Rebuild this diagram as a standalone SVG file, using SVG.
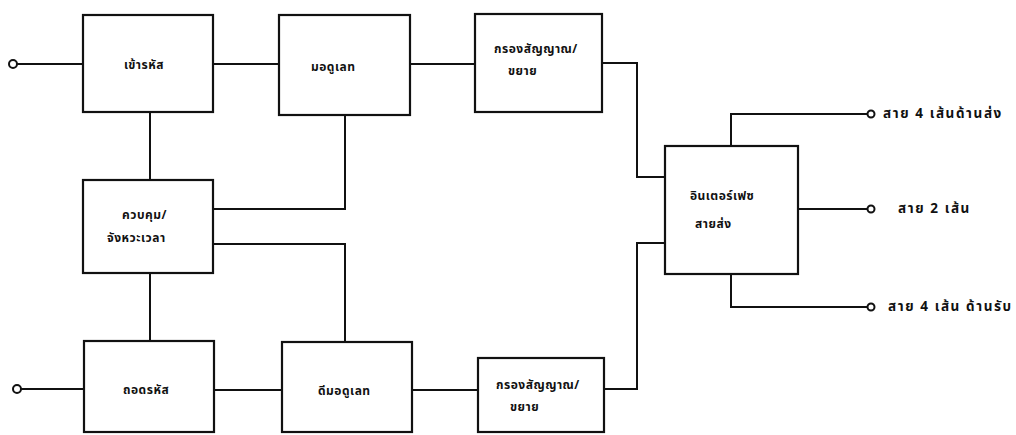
<svg xmlns="http://www.w3.org/2000/svg" width="1016" height="435" viewBox="0 0 1016 435">
<style>
.box{fill:#fff;stroke:#111;stroke-width:2.2}
.ln{fill:none;stroke:#111;stroke-width:2}
.term{fill:#fff;stroke:#111;stroke-width:2}
text{font-family:"Noto Sans Thai","Noto Sans","DejaVu Sans",sans-serif;font-size:12px;font-weight:bold;letter-spacing:0.5px;fill:#111}
text.lbl{font-size:13.5px;letter-spacing:1.6px}
</style>
<rect width="1016" height="435" fill="#fff"/>
<g id="connectors">
<path class="ln" d="M17 64H83"/>
<path class="ln" d="M213 64H279"/>
<path class="ln" d="M410 64H475"/>
<path class="ln" d="M602 63H637V177H665"/>
<path class="ln" d="M150 112V180"/>
<path class="ln" d="M213 209H345V115"/>
<path class="ln" d="M213 244H345V342"/>
<path class="ln" d="M150 273V341"/>
<path class="ln" d="M21 389H84"/>
<path class="ln" d="M214 390H282"/>
<path class="ln" d="M412 390H478"/>
<path class="ln" d="M604 389H637V243H665"/>
<path class="ln" d="M731 146V114H867"/>
<path class="ln" d="M798 209H867"/>
<path class="ln" d="M731 274V307H867"/>
<circle class="term" cx="13" cy="64" r="4"/>
<circle class="term" cx="17" cy="389" r="4"/>
<circle class="term" cx="871" cy="114" r="3.5"/>
<circle class="term" cx="871" cy="209" r="3.5"/>
<circle class="term" cx="871" cy="307" r="3.5"/>
</g>
<g id="encode"><rect class="box" x="83" y="15" width="130" height="97"/><text x="124" y="69">เข้ารหัส</text></g>
<g id="modulate"><rect class="box" x="279" y="15" width="131" height="100"/><text x="311" y="71">มอดูเลท</text></g>
<g id="filter-top"><rect class="box" x="475" y="14" width="127" height="98"/><text x="494" y="53">กรองสัญญาณ/</text><text x="508" y="75">ขยาย</text></g>
<g id="control"><rect class="box" x="83" y="180" width="130" height="93"/><text x="122" y="219">ควบคุม/</text><text x="107" y="242">จังหวะเวลา</text></g>
<g id="interface"><rect class="box" x="665" y="146" width="133" height="128"/><text x="690" y="200">อินเตอร์เฟซ</text><text x="695" y="228">สายส่ง</text></g>
<g id="decode"><rect class="box" x="84" y="341" width="130" height="91"/><text x="123" y="394">ถอดรหัส</text></g>
<g id="demodulate"><rect class="box" x="282" y="342" width="130" height="90"/><text x="318" y="395">ดีมอดูเลท</text></g>
<g id="filter-bottom"><rect class="box" x="478" y="358" width="126" height="74"/><text x="496" y="389">กรองสัญญาณ/</text><text x="510" y="411">ขยาย</text></g>
<g id="labels">
<text class="lbl" x="883" y="118">สาย 4 เส้นด้านส่ง</text>
<text class="lbl" x="898" y="213">สาย 2 เส้น</text>
<text class="lbl" x="888" y="311">สาย 4 เส้น ด้านรับ</text>
</g>
</svg>
